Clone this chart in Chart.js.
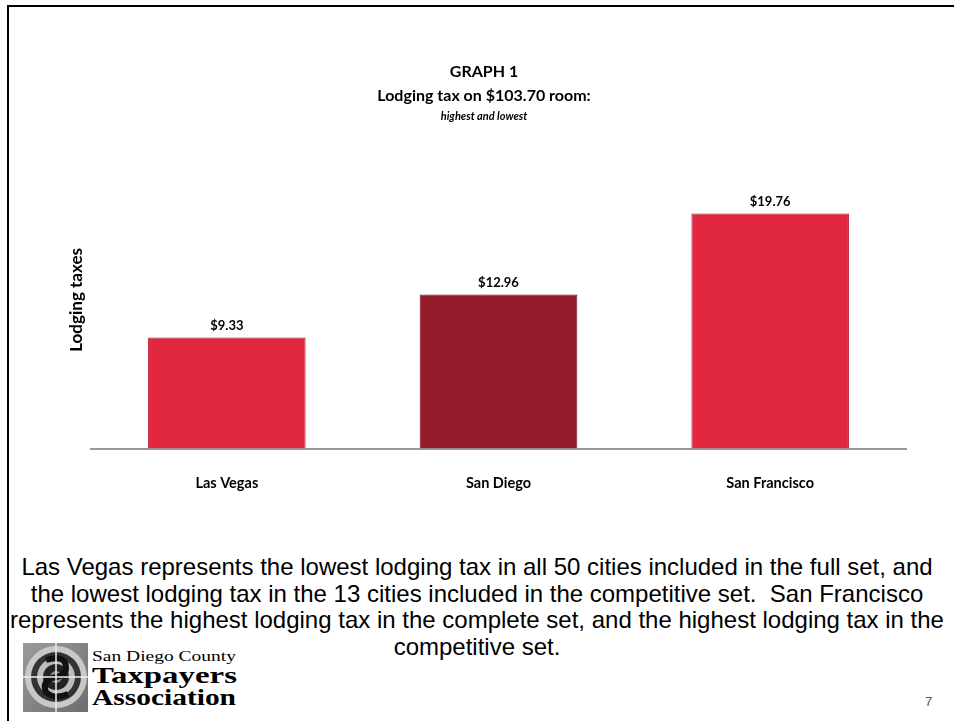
<!DOCTYPE html>
<html>
<head>
<meta charset="utf-8">
<script src="https://cdn.jsdelivr.net/npm/chart.js@4/dist/chart.umd.min.js"></script>
<style>
    html, body { margin: 0; padding: 0; background: #fff; }
    body { width: 954px; height: 721px; position: relative; overflow: hidden; }
    .frame-top { position: absolute; left: 7px; right: 0; top: 5px; height: 2px; background: #000; }
    .frame-left { position: absolute; left: 7px; top: 5px; bottom: 0; width: 2px; background: #000; }
    #chartBox { position: absolute; left: 0; top: 50px; width: 954px; height: 468px; }
    .note {
        position: absolute; left: 0; top: 554px; width: 954px;
        text-align: center; white-space: nowrap;
        font-family: "Liberation Sans", Arial, sans-serif; font-size: 24px; line-height: 26.7px; color: #000;
    }
    .page-num { position: absolute; left: 925px; top: 694px; font-family: "Liberation Sans", Arial, sans-serif; font-size: 13px; color: #555; }
    #logo { position: absolute; left: 20px; top: 640px; }
</style>
</head>
<body>
<div class="frame-top"></div>
<div class="frame-left"></div>
<div id="chartBox"><canvas id="lodgingChart"></canvas></div>

<div class="note">
Las Vegas represents the lowest lodging tax in all 50 cities included in the full set, and<br>
the lowest lodging tax in the 13 cities included in the competitive set.&nbsp; San Francisco<br>
represents the highest lodging tax in the complete set, and the highest lodging tax in the<br>
competitive set.
</div>

<svg id="logo" width="222" height="76" viewBox="0 0 222 76">
    <defs>
        <linearGradient id="bg" x1="0" y1="0" x2="1" y2="1">
            <stop offset="0" stop-color="#9a9a9a"/>
            <stop offset="1" stop-color="#6e6e6e"/>
        </linearGradient>
    </defs>
    <rect x="3" y="3" width="65" height="69" fill="url(#bg)"/>
    <circle cx="36" cy="37" r="31" fill="#c8c8c8"/>
    <circle cx="36" cy="37" r="25" fill="#333"/>
    <circle cx="36" cy="37" r="19" fill="#bdbdbd"/>
    <circle cx="36" cy="37" r="13" fill="#222"/>
    <circle cx="36" cy="37" r="6" fill="#8a8a8a"/>
    <path d="M26 20 Q46 14 46 28 Q46 36 32 38 Q22 42 26 52 Q34 60 48 54" fill="none" stroke="#111" stroke-width="6"/>
    <line x1="36" y1="3" x2="36" y2="72" stroke="#eee" stroke-width="1.5"/>
    <line x1="3" y1="37" x2="68" y2="37" stroke="#eee" stroke-width="1.5"/>
    <text x="72" y="21" font-family="Liberation Serif, serif" font-size="15" textLength="144" lengthAdjust="spacingAndGlyphs">San Diego County</text>
    <text x="72" y="43" font-family="Liberation Serif, serif" font-weight="bold" font-size="24" textLength="145" lengthAdjust="spacingAndGlyphs">Taxpayers</text>
    <text x="72" y="65" font-family="Liberation Serif, serif" font-weight="bold" font-size="24" textLength="144" lengthAdjust="spacingAndGlyphs">Association</text>
</svg>

<div class="page-num">7</div>

<script>
const cities = ['Las Vegas', 'San Diego', 'San Francisco'];
const lodgingTax = [9.33, 12.96, 19.76];
const barColors = ['#e1263f', '#951a2b', '#e1263f'];
const barEdges = ['#b81d33', '#6e1220', '#b81d33'];

const chartFont = 'Lato, "Open Sans", sans-serif';

// writes "$x.xx" above each bar
const valueLabels = {
    id: 'valueLabels',
    afterDatasetsDraw(chart) {
        const ctx = chart.ctx;
        const meta = chart.getDatasetMeta(0);
        ctx.save();
        ctx.font = 'bold 13px ' + chartFont;
        ctx.fillStyle = '#000';
        ctx.textAlign = 'center';
        ctx.textBaseline = 'middle';
        meta.data.forEach((bar, i) => {
            ctx.fillText('$' + lodgingTax[i].toFixed(2), bar.x, bar.y - 12);
        });
        ctx.restore();
    }
};

function createLodgingChart(canvasName) {
    const data = {
        labels: cities,
        datasets: [{
            label: 'Lodging taxes',
            data: lodgingTax,
            backgroundColor: barColors,
            borderColor: barEdges,
            borderWidth: 1,
            borderSkipped: 'bottom',
            categoryPercentage: 1,
            barPercentage: 0.58
        }]
    };
    const config = {
        type: 'bar',
        data: data,
        options: {
            responsive: true,
            maintainAspectRatio: false,
            animation: false,
            layout: {
                padding: { left: 62, right: 48, top: 0, bottom: 0 }
            },
            plugins: {
                legend: { display: false },
                tooltip: { enabled: false },
                title: {
                    display: true,
                    text: ['GRAPH 1', 'Lodging tax on $103.70 room:'],
                    color: '#000',
                    font: { family: chartFont, size: 16, weight: 'bold', lineHeight: 1.5 },
                    padding: { top: 10, bottom: 0 }
                },
                subtitle: {
                    display: true,
                    text: 'highest and lowest',
                    color: '#000',
                    font: { family: chartFont, size: 11, weight: 'bold', style: 'italic' },
                    padding: { top: 2, bottom: 28 }
                }
            },
            scales: {
                x: {
                    grid: { display: false, drawTicks: false },
                    border: { display: true, color: '#999', width: 2 },
                    ticks: {
                        color: '#000',
                        padding: 26,
                        font: { family: chartFont, size: 14.5, weight: 'bold' }
                    }
                },
                y: {
                    min: 0,
                    max: 25,
                    grid: { display: false, drawTicks: false },
                    border: { display: false },
                    ticks: { display: false },
                    title: {
                        display: true,
                        text: 'Lodging taxes',
                        color: '#000',
                        font: { family: chartFont, size: 17, weight: 'bold' },
                        padding: { top: 4, bottom: 4.6 }
                    }
                }
            }
        },
        plugins: [valueLabels]
    };
    return new Chart(canvasName, config);
}

createLodgingChart('lodgingChart');
</script>
</body>
</html>
